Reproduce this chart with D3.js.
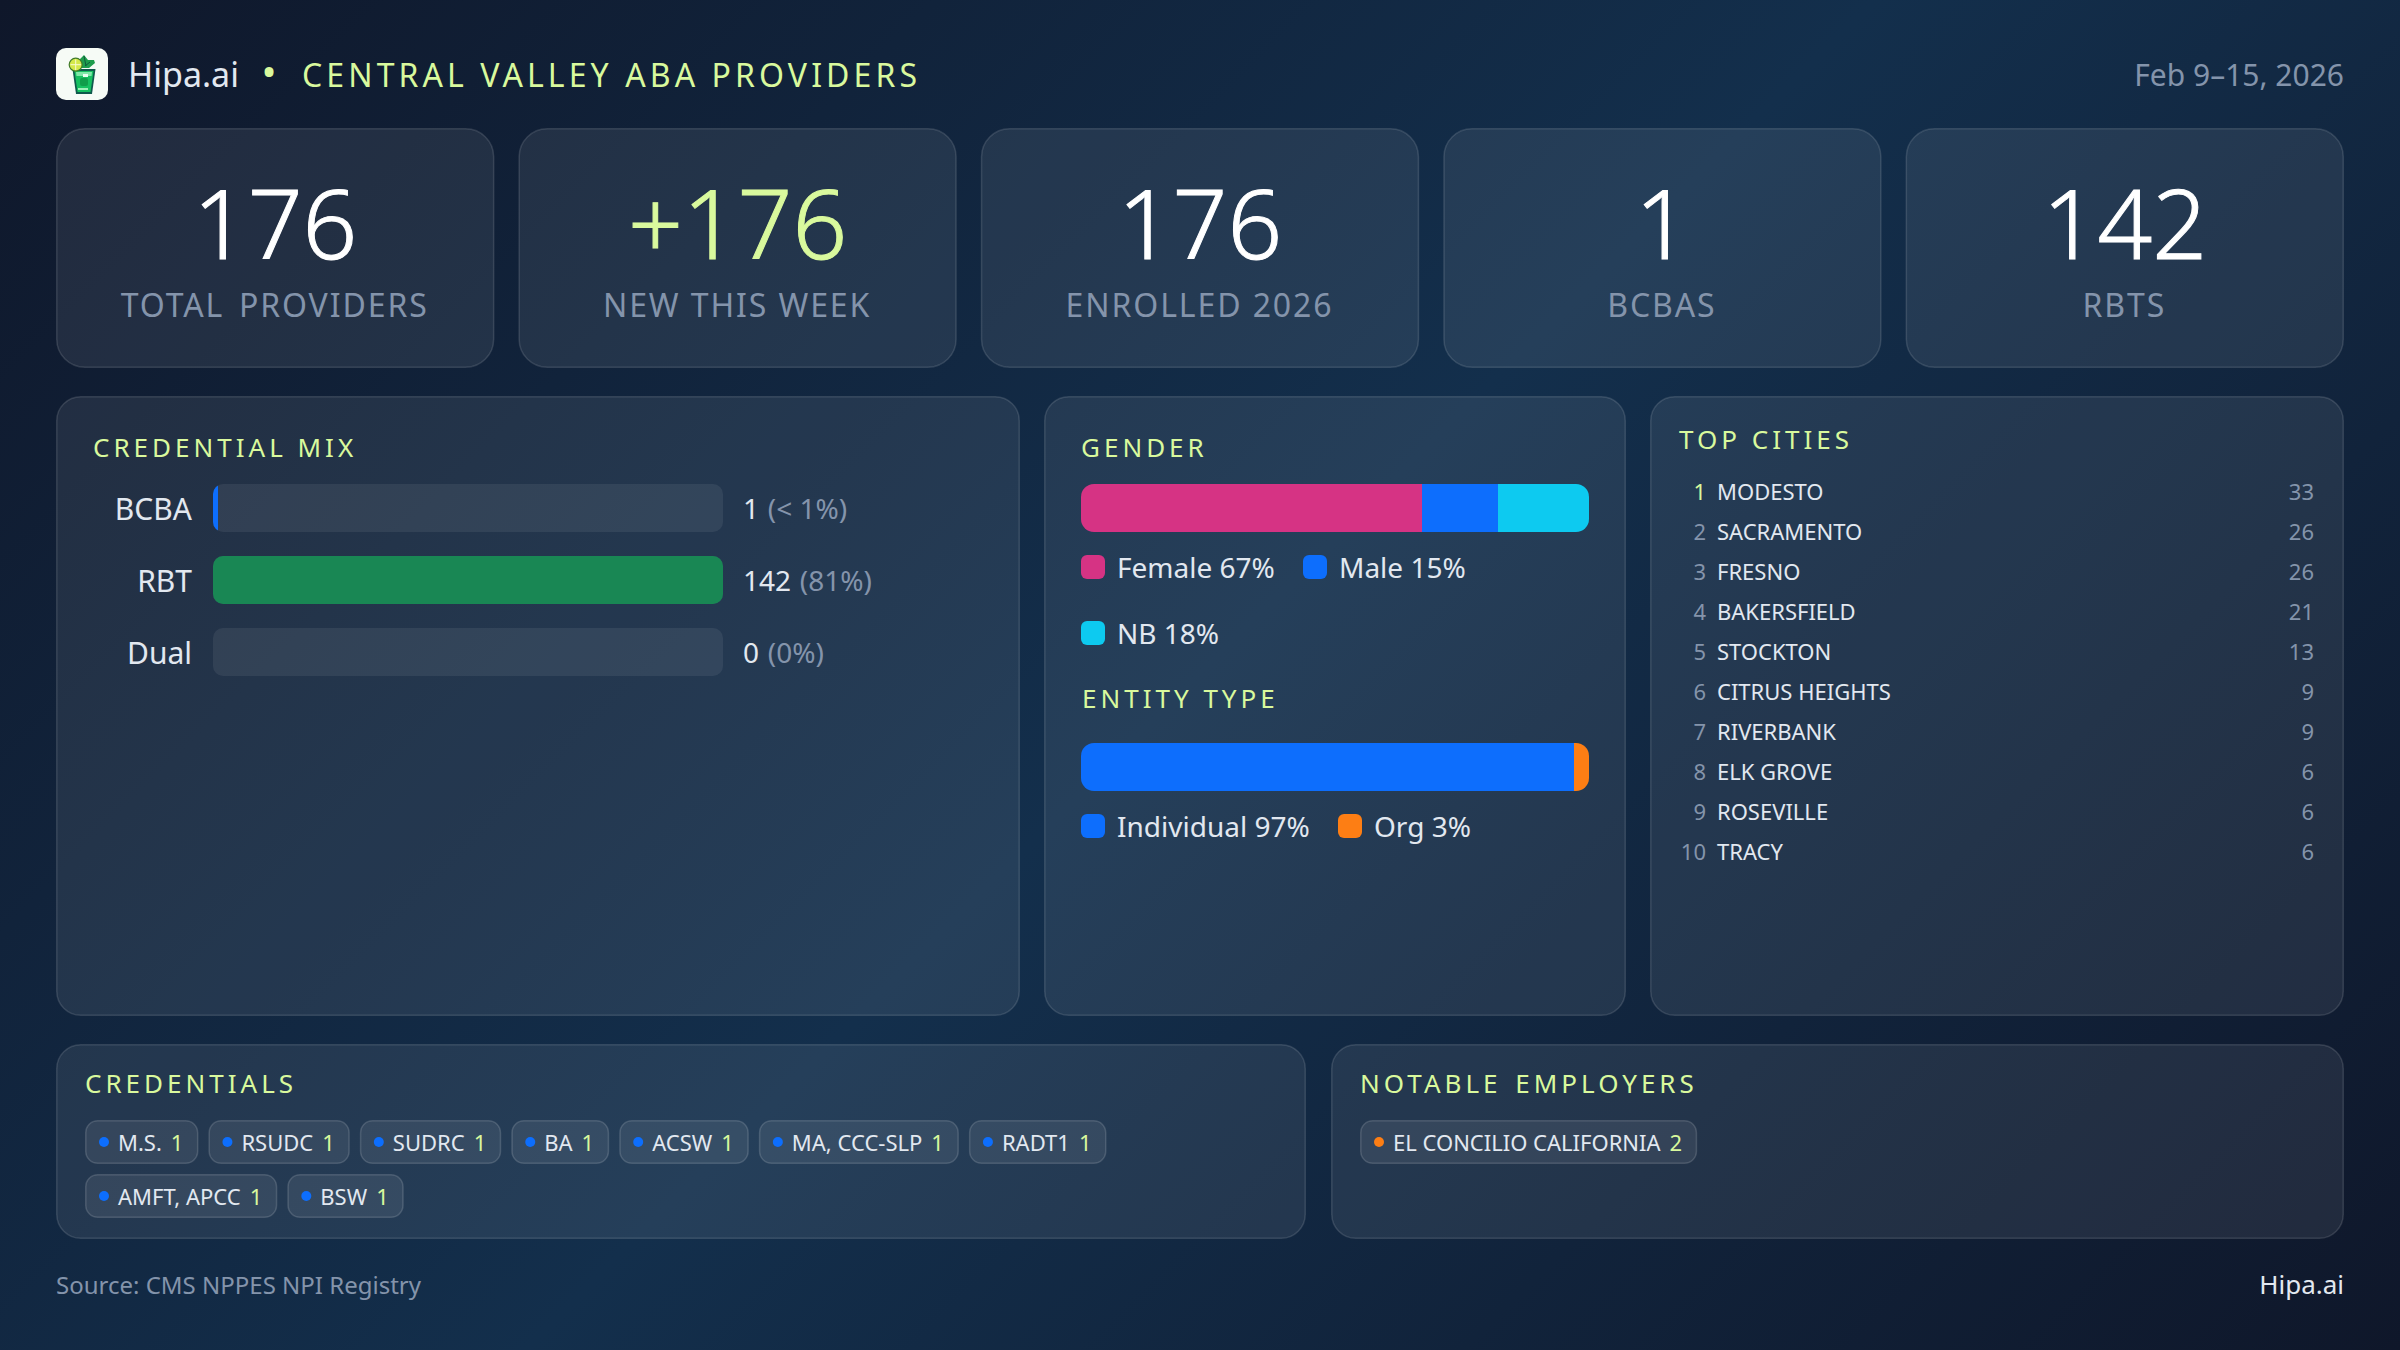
<!DOCTYPE html>
<html>
<head>
<meta charset="utf-8">
<script src="https://cdn.jsdelivr.net/npm/d3@7"></script>
<style>
  html, body { margin: 0; padding: 0; width: 2400px; height: 1350px; overflow: hidden; }
  body { background: linear-gradient(135deg, #0f172a 0%, #132f4c 50%, #0f172a 100%); font-family: "Noto Sans", sans-serif; }
  svg { display: block; position: absolute; left: 0; top: 0; }
  #labels { position: absolute; left: 0; top: 0; width: 2400px; height: 1350px; }
  #labels div { position: absolute; line-height: 0; white-space: pre; }
</style>
</head>
<body>
<svg id="chart" width="2400" height="1350"></svg>
<div id="labels"></div>
<script>
const kpiLabels = ["TOTAL PROVIDERS", "NEW THIS WEEK", "ENROLLED 2026", "BCBAS", "RBTS"];
const kpiValues = ["176", "+176", "176", "1", "142"];

const credLabels = ["BCBA", "RBT", "Dual"];
const credCounts = [1, 142, 0];
const credPcts = ["(< 1%)", "(81%)", "(0%)"];

const genderLabels = ["Female", "Male", "NB"];
const genderValues = [67, 15, 18];

const entityLabels = ["Individual", "Org"];
const entityValues = [97, 3];

const cityNames = ["MODESTO", "SACRAMENTO", "FRESNO", "BAKERSFIELD", "STOCKTON", "CITRUS HEIGHTS", "RIVERBANK", "ELK GROVE", "ROSEVILLE", "TRACY"];
const cityCounts = [33, 26, 26, 21, 13, 9, 9, 6, 6, 6];

const credentialNames = ["M.S.", "RSUDC", "SUDRC", "BA", "ACSW", "MA, CCC-SLP", "RADT1", "AMFT, APCC", "BSW"];
const credentialCounts = [1, 1, 1, 1, 1, 1, 1, 1, 1];

const employerNames = ["EL CONCILIO CALIFORNIA"];
const employerCounts = [2];

const lime = "#d9f99d";
const light = "#e2e8f0";
const muted = "#8494ab";
const blue = "#0d6efd", pink = "#d63384", cyan = "#0dcaf0", orange = "#fd7e14", green = "#198754";

const svg = d3.select("#chart");
const defs = svg.append("defs");
const labels = d3.select("#labels");

function panel(x, y, w, h, r) {
  svg.append("rect")
    .attr("x", x + 0.75).attr("y", y + 0.75)
    .attr("width", w - 1.5).attr("height", h - 1.5)
    .attr("rx", r)
    .attr("fill", "rgba(255,255,255,0.08)")
    .attr("stroke", "rgba(255,255,255,0.13)")
    .attr("stroke-width", 1.5);
}

// html text, y is the baseline (line-height 0 puts it .388em under the box top)
function label(x, y, text, size, fill, anchor, spacing) {
  const shift = anchor === "middle" ? "-50%" : anchor === "end" ? "-100%" : "0";
  return labels.append("div")
    .style("left", x + "px")
    .style("top", (y - 0.388 * size) + "px")
    .style("font-size", size + "px")
    .style("color", fill)
    .style("letter-spacing", (spacing || 0) + "px")
    .style("transform", `translateX(${shift})`)
    .text(text);
}

function panelTitle(x, y, text) {
  return label(x, y, text, 26, lime, "start", 4);
}

// header, the logo is a small drawn glass
const logo = svg.append("g");
logo.append("rect").attr("x", 56).attr("y", 48).attr("width", 52).attr("height", 52).attr("rx", 10).attr("fill", "#f6fbf6");
logo.append("path").attr("d", "M79 60 L84 55 L88 60 L94 60 L95 63 L89 68 L80 68 Z").attr("fill", "#1f9d4d");
logo.append("path").attr("d", "M84 56 L86 66 M90 62 L85 66").attr("stroke", "#0f5a3c").attr("stroke-width", 1);
logo.append("path").attr("d", "M72.5 69 L95.5 69 L92 94 L76 94 Z").attr("fill", "#0f5a4c");
logo.append("path").attr("d", "M74.5 71 L93.5 71 L90.5 92 L77.5 92 Z").attr("fill", "#16c060");
logo.append("path").attr("d", "M76 72 L92 72 L91.5 76 L76.5 76 Z").attr("fill", "#7fe8a8");
logo.append("rect").attr("x", 80).attr("y", 78).attr("width", 8).attr("height", 8).attr("rx", 2).attr("fill", "#0f9d4a");
logo.append("rect").attr("x", 83).attr("y", 74).attr("width", 5).attr("height", 3).attr("fill", "#e8fff0");
logo.append("rect").attr("x", 78).attr("y", 88).attr("width", 10).attr("height", 2).attr("fill", "#9df0b8");
logo.append("circle").attr("cx", 75.7).attr("cy", 64.7).attr("r", 6.5).attr("fill", "#d4e84a").attr("stroke", "#3f7a2a").attr("stroke-width", 1.2);
logo.append("path").attr("d", "M70.5 64.7 H81 M75.7 59.5 V70").attr("stroke", "#f7fbd0").attr("stroke-width", 1);

label(128, 87, "Hipa.ai", 34, light);
label(269, 88, "•", 40, lime, "middle");
label(302, 87, "CENTRAL VALLEY ABA PROVIDERS", 32, lime, "start", 4.1);
label(2344, 87, "Feb 9–15, 2026", 30, muted, "end");

// kpi cards
const kpiX = d3.scaleBand().domain(d3.range(kpiLabels.length)).range([56, 2344]).paddingInner(24 / 462.4);
kpiLabels.forEach((d, i) => {
  const x = kpiX(i), cx = x + kpiX.bandwidth() / 2;
  panel(x, 128, kpiX.bandwidth(), 240, 28);
  label(cx, 259, kpiValues[i], 96, i === 1 ? lime : "#ffffff", "middle")
    .style("font-weight", 300)
    .style("-webkit-text-stroke", "1px"); // a bit heavier than the light face
  label(cx - 0.5, 317, d, 32, muted, "middle", 1.9).style("word-spacing", i === 0 ? "4.6px" : "0");
});

// main panels
panel(56, 396, 964, 620, 24);
panel(1044, 396, 582, 620, 24);
panel(1650, 396, 694, 620, 24);

// credential mix
panelTitle(93, 457, "CREDENTIAL MIX");
const credY = d3.scaleBand().domain(credLabels).range([484, 676]).paddingInner(1 / 3);
const credX = d3.scaleLinear().domain([0, d3.max(credCounts)]).range([213, 723]);

credLabels.forEach((d, i) => {
  const y = credY(d), h = credY.bandwidth();
  const clipId = "cred-clip-" + i;
  defs.append("clipPath").attr("id", clipId).append("rect")
    .attr("x", credX(0)).attr("y", y).attr("width", credX.range()[1] - credX(0)).attr("height", h).attr("rx", 10);
  svg.append("rect")
    .attr("x", credX(0)).attr("y", y).attr("width", credX.range()[1] - credX(0)).attr("height", h).attr("rx", 10)
    .attr("fill", "rgba(255,255,255,0.07)");
  if (credCounts[i] > 0) {
    svg.append("rect")
      .attr("clip-path", `url(#${clipId})`)
      .attr("x", credX(0)).attr("y", y)
      .attr("width", Math.max(credX(credCounts[i]) - credX(0), 5)).attr("height", h)
      .attr("fill", i === 0 ? blue : green);
  }
  label(192, y + 37, d, 30, light, "end");
  const val = label(743, y + 35, "", 28, light);
  val.append("span").text(credCounts[i] + " ");
  val.append("span").style("color", muted).style("margin-left", "1.5px").text(credPcts[i]);
});

// stacked bars with legends
function stackBar(id, values, colors, y) {
  const scale = d3.scaleLinear().domain([0, d3.sum(values)]).range([1081, 1589]);
  const x = (v) => Math.ceil(scale(v)); // segment edges land on whole pixels
  const h = 48;
  defs.append("clipPath").attr("id", id).append("rect")
    .attr("x", x(0)).attr("y", y).attr("width", scale.range()[1] - x(0)).attr("height", h).attr("rx", 13);
  const starts = [0, ...d3.cumsum(values)];
  svg.append("g").attr("clip-path", `url(#${id})`)
    .selectAll("rect").data(values).join("rect")
    .attr("x", (d, i) => x(starts[i]))
    .attr("y", y)
    .attr("width", (d, i) => x(starts[i + 1]) - x(starts[i]))
    .attr("height", h)
    .attr("fill", (d, i) => colors[i]);
}

function legendItem(x, y, color, text) {
  svg.append("rect").attr("x", x).attr("y", y).attr("width", 24).attr("height", 24).attr("rx", 6).attr("fill", color);
  label(x + 36, y + 23, text, 28, light);
}

const genderColors = [pink, blue, cyan];
panelTitle(1081, 457, "GENDER");
stackBar("gender-clip", genderValues, genderColors, 484);
const genderLegendPos = [[1081, 555], [1303, 555], [1081, 621]];
genderLabels.forEach((d, i) => legendItem(genderLegendPos[i][0], genderLegendPos[i][1], genderColors[i], `${d} ${genderValues[i]}%`));

const entityColors = [blue, orange];
panelTitle(1082, 708, "ENTITY TYPE");
stackBar("entity-clip", entityValues, entityColors, 743);
const entityLegendPos = [[1081, 814], [1338, 814]];
entityLabels.forEach((d, i) => legendItem(entityLegendPos[i][0], entityLegendPos[i][1], entityColors[i], `${d} ${entityValues[i]}%`));

// top cities
panelTitle(1679, 449, "TOP CITIES");
const cityY = d3.scalePoint().domain(cityNames).range([500, 860]);
cityNames.forEach((d, i) => {
  label(1706, cityY(d), i + 1, 22, i === 0 ? lime : muted, "end");
  label(1717, cityY(d), d, 22, light);
  label(2314, cityY(d), cityCounts[i], 22, muted, "end");
});

// bottom panels and chips
panel(56, 1044, 1250, 195, 24);
panel(1331, 1044, 1013, 195, 24);
panelTitle(85, 1093, "CREDENTIALS");
panelTitle(1360, 1093, "NOTABLE EMPLOYERS").style("word-spacing", "3px");

function drawChip(name, count, color, x, y) {
  const t = label(x + 33, y + 31, name, 22, light);
  const nameEnd = x + 33 + t.node().getBoundingClientRect().width;
  const c = label(nameEnd + 9, y + 31, count, 22, lime);
  const width = nameEnd + 9 + c.node().getBoundingClientRect().width + 15 - x;
  svg.append("rect")
    .attr("x", x + 0.75).attr("y", y + 0.75).attr("width", width - 1.5).attr("height", 42.5).attr("rx", 12)
    .attr("fill", "rgba(255,255,255,0.08)").attr("stroke", "rgba(255,255,255,0.15)").attr("stroke-width", 1.5);
  svg.append("circle").attr("cy", y + 22).attr("cx", x + 19).attr("r", 5).attr("fill", color);
  return width;
}

// first seven credentials fit on row one, the rest wrap
let chipX = 85;
credentialNames.forEach((name, i) => {
  if (i === 7) chipX = 85;
  chipX += drawChip(name, credentialCounts[i], blue, chipX, i < 7 ? 1120 : 1174) + 10;
});
employerNames.forEach((name, i) => drawChip(name, employerCounts[i], orange, 1360, 1120));

// footer
label(56, 1294, "Source: CMS NPPES NPI Registry", 24, muted);
label(2344, 1294, "Hipa.ai", 26, light, "end");
</script>
</body>
</html>
